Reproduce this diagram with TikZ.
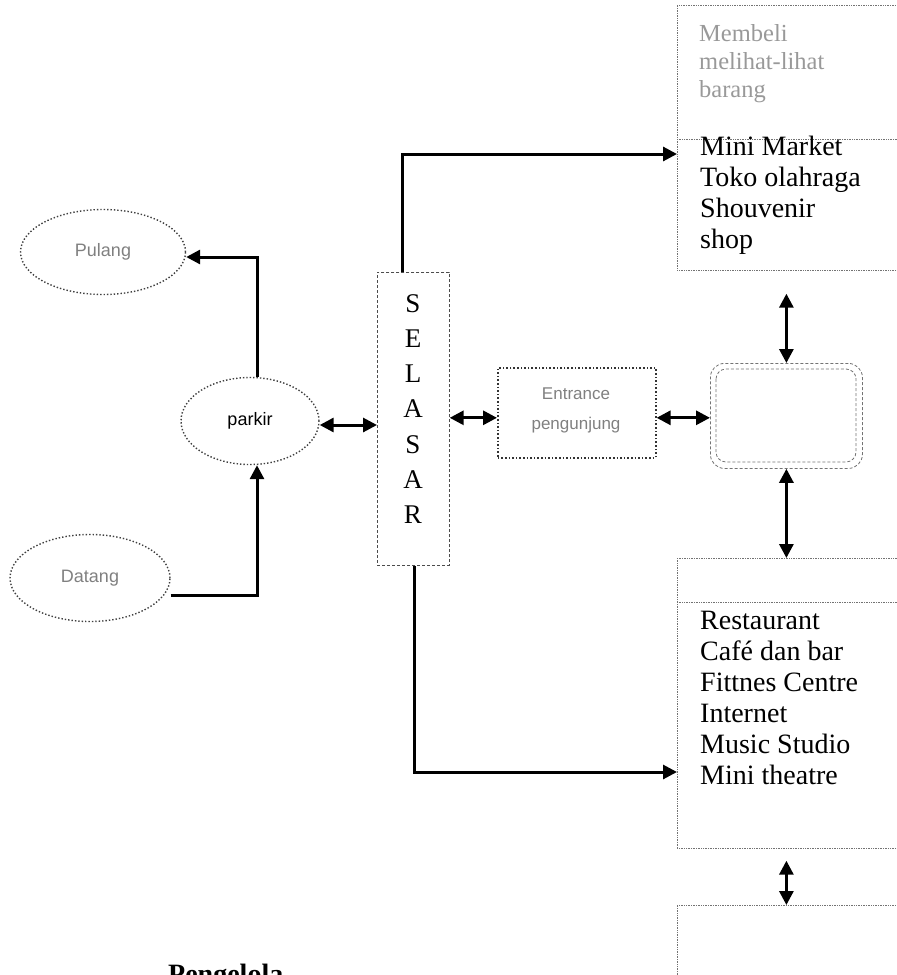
\documentclass[tikz,border=0pt]{standalone}
\usepackage{fontspec}
\setmainfont{Liberation Serif}
\newfontfamily\arialf{Liberation Sans}
\usetikzlibrary{arrows.meta,shapes.geometric,calc}
\begin{document}
\begin{tikzpicture}[x=1pt,y=-1pt,
  tip/.tip={Triangle[length=14pt,width=14pt]},
  conn/.style={line width=3pt,-tip},
  dconn/.style={line width=3pt,tip-tip},
  zonebox/.style={draw=black!55,densely dotted,line width=0.7pt,rectangle,inner sep=0pt,anchor=north west},
  divline/.style={draw=black!55,densely dotted,line width=0.7pt},
  oval/.style={ellipse,draw=black!75,dotted,line width=1.4pt,inner sep=0pt},
  bigtext/.style={font=\fontsize{28}{31}\selectfont,align=left,anchor=north west,inner sep=0pt},
  greytext/.style={font=\fontsize{24.5}{28}\selectfont,text=black!40,align=left,anchor=north west,inner sep=0pt},
  sanslabel/.style={font=\arialf\fontsize{18}{22}\selectfont,text=black!50,align=center}
]
\useasboundingbox (0,0) rectangle (897,975);

% right column boxes
\node[zonebox,minimum width=230pt,minimum height=265pt] (topbox) at (677,5) {};
\draw[divline] (677,139) -- (905,139);
\node[greytext] (grey) at (699,24) {Membeli\\melihat-lihat\\barang};
\node[bigtext] (shops) at (700,136) {Mini Market\\Toko olahraga\\Shouvenir\\shop};

\node[draw=black!55,densely dashed,line width=0.8pt,rounded corners=14pt,minimum width=152pt,minimum height=105pt,anchor=north west,inner sep=0pt] (hall) at (710,363) {};
\draw[black!55,densely dashed,line width=0.8pt,rounded corners=10pt] (716,369) rectangle (856,462);

\node[zonebox,minimum width=230pt,minimum height=290pt] (botbox) at (677,558) {};
\draw[divline] (677,602) -- (905,602);
\node[bigtext] (facil) at (700,611) {Restaurant\\Café dan bar\\Fittnes Centre\\Internet\\Music Studio\\Mini theatre};

\node[zonebox,minimum width=230pt,minimum height=100pt] (lastbox) at (677,905) {};

% selasar
\node[draw=black!70,densely dashed,line width=0.7pt,minimum width=72pt,minimum height=293pt,inner sep=0pt,anchor=north west] (selasar) at (377,272) {};
\node[font=\fontsize{27}{35.3}\selectfont,align=center,inner sep=0pt] (seltext) at (413,409) {S\\E\\L\\A\\S\\A\\R};

% entrance
\node[draw=black!80,dotted,line width=1.6pt,minimum width=158pt,minimum height=90pt,inner sep=0pt,anchor=north west] (entr) at (497,367) {};
\node[font=\arialf\fontsize{17}{30}\selectfont,text=black!50,align=center] (entrtext) at (576,410) {Entrance\\pengunjung};

% ovals
\node[oval,minimum width=165pt,minimum height=85pt] (pulang) at (103,252) {};
\node[sanslabel] at (pulang) {Pulang};
\node[oval,minimum width=160pt,minimum height=87pt] (datang) at (90,578) {};
\node[sanslabel] at (datang) {Datang};
\node[oval,minimum width=138pt,minimum height=87pt] (parkir) at (250,421) {};
\node[sanslabel,text=black] at (parkir) {parkir};

% connectors
\coordinate (topin) at (677,154);
\coordinate (botin) at (677,772);
\draw[conn] ([xshift=-11pt]selasar.north) |- (topin);
\draw[conn] ([xshift=1pt]selasar.south) |- (botin);
\draw[conn] ([xshift=7pt]parkir.north) |- ([yshift=-5pt]pulang.east);
\draw[conn] ([yshift=-17pt]datang.east) -| ([xshift=7pt]parkir.south);
\draw[dconn] ([yshift=-4pt]parkir.east) -- ([yshift=-4pt]parkir.east -| selasar.west);
\draw[dconn] ([yshift=-5pt]entr.west -| selasar.east) -- ([yshift=-5pt]entr.west);
\draw[dconn] ([yshift=-5pt]entr.east) -- ([yshift=-5pt]entr.east -| hall.west);
\draw[dconn] ([yshift=-23pt]topbox.south -| hall.north) -- (hall.north);
\draw[dconn] (hall.south) -- (hall.south |- botbox.north);
\draw[dconn] ([yshift=-12pt]botbox.south -| hall.south) -- (hall.south |- lastbox.north);

% bottom label
\node[font=\bfseries\fontsize{28}{30}\selectfont,anchor=north west,inner sep=0pt] (peng) at (168,964) {Pengelola};
\end{tikzpicture}
\end{document}
